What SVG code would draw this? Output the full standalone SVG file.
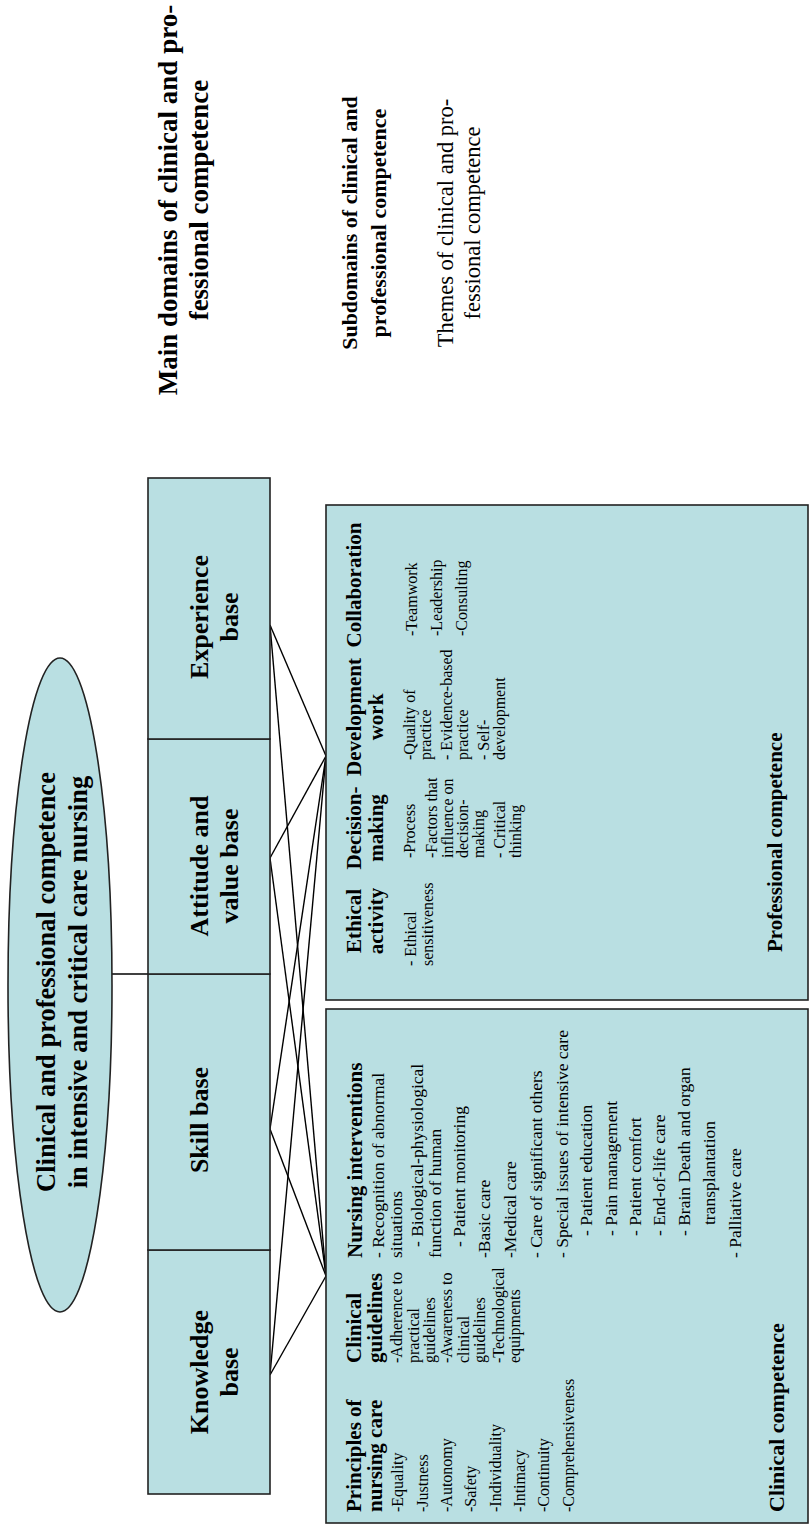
<svg xmlns="http://www.w3.org/2000/svg" width="812" height="1532" viewBox="0 0 812 1532">
<style>
.box{fill:#B9DFE2;stroke:#222;stroke-width:1.6}
.ln{stroke:#000;stroke-width:1.4;fill:none}
text{font-family:"Liberation Serif","Times New Roman",serif;fill:#000}
.b{font-weight:bold}
.t27{font-size:27px}.t26{font-size:26px}.t22{font-size:22px}.t21{font-size:21px}
.i16{font-size:16px}.i17{font-size:16px}.i175{font-size:17.5px}
.m{text-anchor:middle}
</style>
<rect width="812" height="1532" fill="#fff"/>
<g transform="translate(0 1532) rotate(-90)">
<g id="legend">
<text class="b t27 m" x="1332" y="177">Main domains of clinical and pro-</text>
<text class="b t27 m" x="1332" y="208">fessional competence</text>
<text class="b t22 m" x="1309" y="357">Subdomains of clinical and</text>
<text class="b t22 m" x="1309" y="386">professional competence</text>
<text class="t22 m" x="1309" y="453" style="font-size:22.5px">Themes of clinical and pro-</text>
<text class="t22 m" x="1309" y="480" style="font-size:22.5px">fessional competence</text>
</g>
<g id="connectors">
<line class="ln" x1="558" y1="112" x2="558" y2="148"/>
<line class="ln" x1="907" y1="270" x2="776" y2="326"/>
<line class="ln" x1="907" y1="270" x2="256" y2="326"/>
<line class="ln" x1="674" y1="270" x2="776" y2="326"/>
<line class="ln" x1="674" y1="270" x2="256" y2="326"/>
<line class="ln" x1="403" y1="270" x2="776" y2="326"/>
<line class="ln" x1="403" y1="270" x2="256" y2="326"/>
<line class="ln" x1="157" y1="270" x2="776" y2="326"/>
<line class="ln" x1="157" y1="270" x2="256" y2="326"/>
</g>
<g id="root">
<ellipse class="box" cx="547" cy="60" rx="327" ry="52"/>
<text class="b m" style="font-size:26.5px" x="550" y="55">Clinical and professional competence</text>
<text class="b m" style="font-size:26.5px" x="550" y="87">in intensive and critical care nursing</text>
</g>
<g id="knowledge">
<rect class="box" x="38" y="148" width="244" height="122"/>
<text class="b t26 m" x="160" y="208">Knowledge</text>
<text class="b t26 m" x="160" y="238">base</text>
</g>
<g id="skill">
<rect class="box" x="282" y="148" width="276" height="122"/>
<text class="b t26 m" x="412" y="208">Skill base</text>
</g>
<g id="attitude">
<rect class="box" x="558" y="148" width="235" height="122"/>
<text class="b t26 m" x="666" y="208">Attitude and</text>
<text class="b t26 m" x="666" y="238">value base</text>
</g>
<g id="experience">
<rect class="box" x="793" y="148" width="261" height="122"/>
<text class="b t26 m" x="915" y="208">Experience</text>
<text class="b t26 m" x="915" y="238">base</text>
</g>
<g id="professional">
<rect class="box" x="532" y="326" width="495" height="482"/>
<text class="b t21 m" x="611" y="361">Ethical</text>
<text class="b t21 m" x="611" y="383">activity</text>
<text class="b t21 m" x="704" y="361">Decision-</text>
<text class="b t21 m" x="704" y="383">making</text>
<text class="b t21 m" x="815" y="361">Development</text>
<text class="b t21 m" x="815" y="383">work</text>
<text class="b t21 m" x="947" y="361">Collaboration</text>
<text class="i16" x="566" y="416">- Ethical</text>
<text class="i16" x="566" y="433">sensitiveness</text>
<text class="i16" x="674" y="415">-Process</text>
<text class="i16" x="674" y="437">-Factors that</text>
<text class="i16" x="674" y="452.5">influence on</text>
<text class="i16" x="674" y="468">decision-</text>
<text class="i16" x="674" y="483.5">making</text>
<text class="i16" x="674" y="505">- Critical</text>
<text class="i16" x="674" y="520.5">thinking</text>
<text class="i16" x="772" y="415">-Quality of</text>
<text class="i16" x="772" y="430.5">practice</text>
<text class="i16" x="772" y="452">- Evidence-based</text>
<text class="i16" x="772" y="467.5">practice</text>
<text class="i16" x="772" y="489">- Self-</text>
<text class="i16" x="772" y="504.5">development</text>
<text class="i16" x="896" y="417">-Teamwork</text>
<text class="i16" x="896" y="442">-Leadership</text>
<text class="i16" x="896" y="467">-Consulting</text>
<text class="b t21" x="580" y="782">Professional competence</text>
</g>
<g id="clinical">
<rect class="box" x="9" y="326" width="514" height="482"/>
<text class="b t21" x="20" y="361">Principles of</text>
<text class="b t21" x="20" y="382">nursing care</text>
<text class="b t21" x="169" y="361">Clinical</text>
<text class="b t21" x="169" y="382">guidelines</text>
<text class="b t21" x="274" y="362">Nursing interventions</text>
<text class="i17" x="20" y="403">-Equality</text>
<text class="i17" x="20" y="427.5">-Justness</text>
<text class="i17" x="20" y="451.5">-Autonomy</text>
<text class="i17" x="20" y="476">-Safety</text>
<text class="i17" x="20" y="500.5">-Individuality</text>
<text class="i17" x="20" y="525">-Intimacy</text>
<text class="i17" x="20" y="549">-Continuity</text>
<text class="i17" x="20" y="573.5">-Comprehensiveness</text>
<text class="i17" x="169" y="402">-Adherence to</text>
<text class="i17" x="169" y="419">practical</text>
<text class="i17" x="169" y="435">guidelines</text>
<text class="i17" x="169" y="452">-Awareness to</text>
<text class="i17" x="169" y="469">clinical</text>
<text class="i17" x="169" y="485">guidelines</text>
<text class="i17" x="169" y="504">-Technological</text>
<text class="i17" x="169" y="520">equipments</text>
<text class="i175" x="274" y="384">- Recognition of abnormal</text>
<text class="i175" x="274" y="402">situations</text>
<text class="i175" x="285" y="423">- Biological-physiological</text>
<text class="i175" x="274" y="441">function of human</text>
<text class="i175" x="285" y="465">- Patient monitoring</text>
<text class="i175" x="274" y="490">-Basic care</text>
<text class="i175" x="274" y="516">-Medical care</text>
<text class="i175" x="274" y="542">- Care of significant others</text>
<text class="i175" x="274" y="567.5">- Special issues of intensive care</text>
<text class="i175" x="296" y="592">- Patient education</text>
<text class="i175" x="296" y="616.5">- Pain management</text>
<text class="i175" x="296" y="641">- Patient comfort</text>
<text class="i175" x="296" y="665">- End-of-life care</text>
<text class="i175" x="296" y="689.5">- Brain Death and organ</text>
<text class="i175" x="307" y="715">transplantation</text>
<text class="i175" x="274" y="741">- Palliative care</text>
<text class="b t22" x="20" y="784">Clinical competence</text>
</g>
</g>
</svg>
